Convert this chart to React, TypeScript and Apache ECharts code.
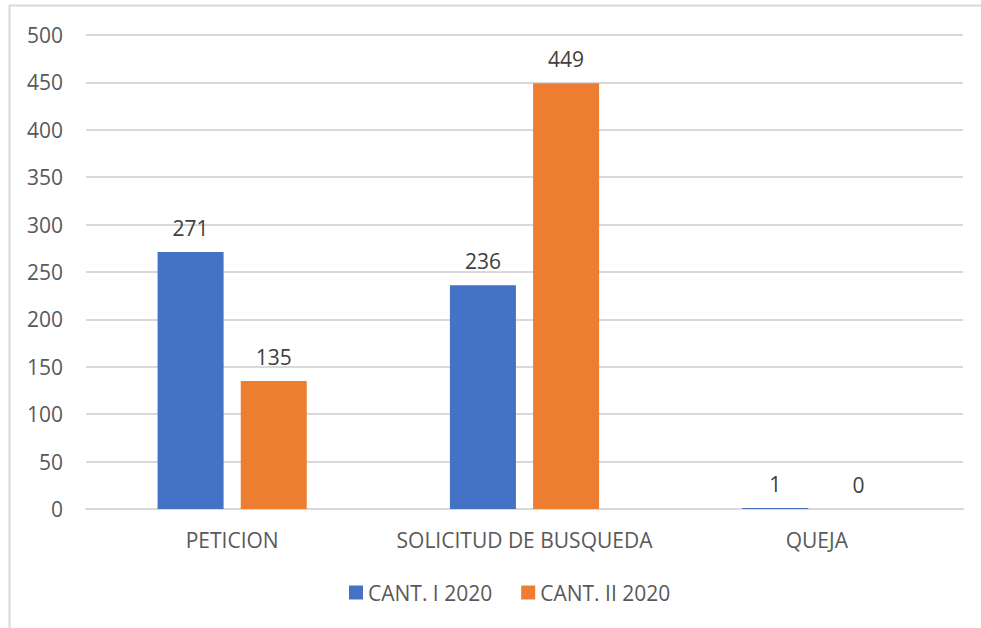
import React, { useEffect, useRef } from "react";
import * as echarts from "echarts";

const categories = ["PETICION", "SOLICITUD DE BUSQUEDA", "QUEJA"];
const seriesNames = ["CANT. I 2020", "CANT. II 2020"];
const cant1 = [271, 236, 1];
const cant2 = [135, 449, 0];
const colors = ["#4472C4", "#ED7D31"];

const FONT = "'Open Sans', 'Noto Sans', sans-serif";
const TEXT = "#595959";
const SIZE = 21;

export default function App() {
  const ref = useRef<HTMLDivElement>(null);

  useEffect(() => {
    if (!ref.current) return;
    const chart = echarts.init(ref.current, null, { renderer: "svg" });
    const label = {
      show: true,
      position: "top",
      distance: 14,
      color: "#404040",
      fontSize: SIZE,
      fontFamily: FONT,
    };
    chart.setOption({
      animation: false,
      backgroundColor: "#ffffff",
      textStyle: { fontFamily: FONT },
      graphic: [
        {
          type: "rect",
          shape: { x: 9.5, y: 5.5, width: 990, height: 640 },
          style: { fill: "none", stroke: "#D9D9D9", lineWidth: 2 },
          silent: true,
        },
      ],
      grid: { left: 86, right: 18, top: 35, bottom: 119 },
      legend: {
        bottom: 20,
        left: 344,
        itemWidth: 14,
        itemHeight: 14,
        itemGap: 29,
        icon: "rect",
        textStyle: { color: TEXT, fontSize: SIZE, fontFamily: FONT },
        data: seriesNames,
      },
      xAxis: {
        type: "category",
        data: categories,
        axisLine: { show: true, lineStyle: { color: "#D9D9D9", width: 2 } },
        axisTick: { show: false },
        axisLabel: {
          color: TEXT,
          fontSize: SIZE,
          fontFamily: FONT,
          margin: 20,
          interval: 0,
        },
      },
      yAxis: {
        type: "value",
        min: 0,
        max: 500,
        interval: 50,
        axisLine: { show: false },
        axisTick: { show: false },
        splitLine: { lineStyle: { color: "#D9D9D9", width: 2 } },
        axisLabel: { color: TEXT, fontSize: SIZE, fontFamily: FONT, margin: 23 },
      },
      series: [
        {
          name: seriesNames[0],
          type: "bar",
          data: cant1,
          barWidth: 66,
          barGap: "26%",
          itemStyle: { color: colors[0] },
          label,
        },
        {
          name: seriesNames[1],
          type: "bar",
          data: cant2,
          barWidth: 66,
          barGap: "26%",
          itemStyle: { color: colors[1] },
          label,
        },
      ],
    });
    return () => chart.dispose();
  }, []);

  return (
    <div
      ref={ref}
      style={{ position: "fixed", left: 0, top: 0, width: 981, height: 628 }}
    />
  );
}
